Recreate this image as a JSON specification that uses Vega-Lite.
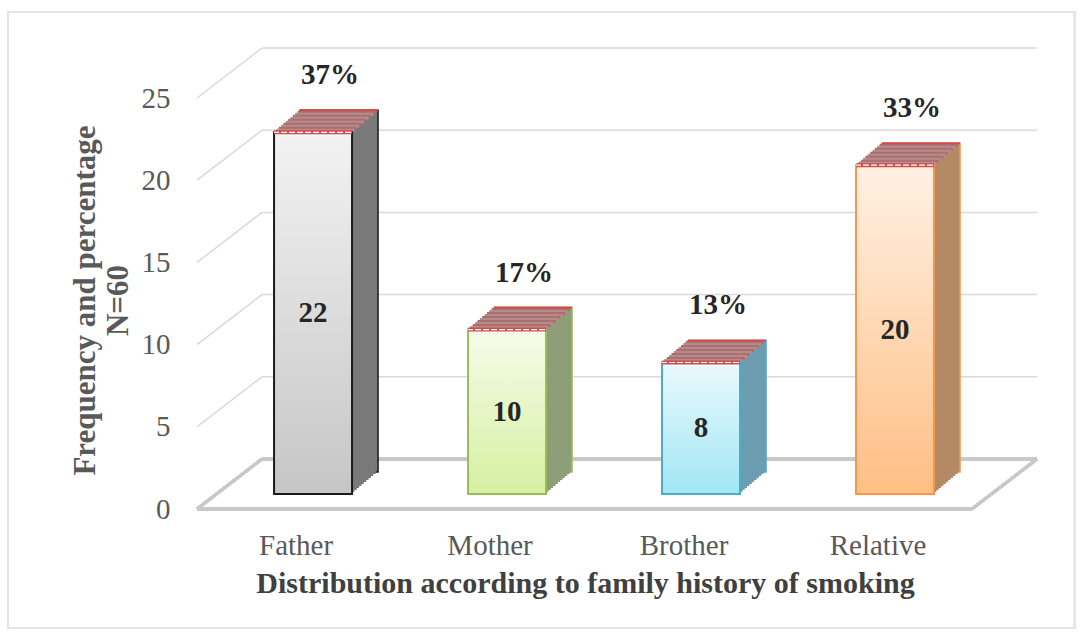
{
  "$schema": "https://vega.github.io/schema/vega-lite/v6.json",
  "width": 840,
  "height": 461,
  "autosize": {"type": "none"},
  "padding": {"left": 197, "top": 48, "right": 44, "bottom": 126},
  "background": "white",
  "config": {"view": {"stroke": null}},
  "data": {"values": [
    {"member": "Father", "count": 22, "pct": "37%"},
    {"member": "Mother", "count": 10, "pct": "17%"},
    {"member": "Brother", "count": 8, "pct": "13%"},
    {"member": "Relative", "count": 20, "pct": "33%"}
  ]},
  "resolve": {"scale": {"x": "independent", "y": "independent"}},
  "layer": [
    {
      "data": {"values": [{"g": 5}, {"g": 10}, {"g": 15}, {"g": 20}, {"g": 25}]},
      "layer": [
        {"mark": {"type": "rect", "fill": null, "stroke": "#e4e4e4", "strokeWidth": 2},
         "encoding": {
           "x": {"datum": -0.225, "type": "quantitative", "scale": {"domain": [0, 1]}, "axis": null},
           "x2": {"datum": 1.045},
           "y": {"datum": 29.32, "type": "quantitative", "scale": {"domain": [-0.9124, 27.129]}, "axis": null},
           "y2": {"datum": -8.15}}},
        {"mark": {"type": "rule", "color": "#d9d9d9", "strokeWidth": 1.5, "yOffset": 15, "y2Offset": -35},
         "encoding": {
           "x": {"datum": 0, "type": "quantitative", "scale": {"domain": [0, 1]}, "axis": null},
           "x2": {"datum": 0.0774},
           "y": {"field": "g", "type": "quantitative", "scale": {"domain": [-0.9124, 27.129]}, "axis": null},
           "y2": {"field": "g"}}},
        {"mark": {"type": "rule", "color": "#d9d9d9", "strokeWidth": 1.5, "yOffset": -35},
         "encoding": {
           "x": {"datum": 0.0774, "type": "quantitative", "scale": {"domain": [0, 1]}, "axis": null},
           "x2": {"datum": 1},
           "y": {"field": "g", "type": "quantitative", "scale": {"domain": [-0.9124, 27.129]}, "axis": null}}},
        {"mark": {"type": "rule", "color": "#c8c8c8", "strokeWidth": 3, "yOffset": 15, "y2Offset": -35},
         "encoding": {
           "x": {"datum": 0, "type": "quantitative", "scale": {"domain": [0, 1]}, "axis": null},
           "x2": {"datum": 0.0774},
           "y": {"datum": 0, "type": "quantitative", "scale": {"domain": [-0.9124, 27.129]}, "axis": null},
           "y2": {"datum": 0}}},
        {"mark": {"type": "rule", "color": "#c8c8c8", "strokeWidth": 3, "yOffset": -35},
         "encoding": {
           "x": {"datum": 0.0774, "type": "quantitative", "scale": {"domain": [0, 1]}, "axis": null},
           "x2": {"datum": 1},
           "y": {"datum": 0, "type": "quantitative", "scale": {"domain": [-0.9124, 27.129]}, "axis": null}}},
        {"mark": {"type": "rule", "color": "#c8c8c8", "strokeWidth": 3, "yOffset": 15},
         "encoding": {
           "x": {"datum": 0, "type": "quantitative", "scale": {"domain": [0, 1]}, "axis": null},
           "x2": {"datum": 0.9226},
           "y": {"datum": 0, "type": "quantitative", "scale": {"domain": [-0.9124, 27.129]}, "axis": null}}},
        {"mark": {"type": "rule", "color": "#c8c8c8", "strokeWidth": 3, "yOffset": 15, "y2Offset": -35},
         "encoding": {
           "x": {"datum": 0.9226, "type": "quantitative", "scale": {"domain": [0, 1]}, "axis": null},
           "x2": {"datum": 1},
           "y": {"datum": 0, "type": "quantitative", "scale": {"domain": [-0.9124, 27.129]}, "axis": null},
           "y2": {"datum": 0}}}
      ]
    },
    {
      "encoding": {
        "x": {"field": "member", "type": "nominal", "sort": ["Father", "Mother", "Brother", "Relative"],
          "scale": {"type": "band", "paddingInner": 0.598, "paddingOuter": 0.464, "align": 0.428},
          "axis": {"labelOffset": -17, "ticks": false, "domain": false, "labelPadding": 22, "labelAngle": 0,
            "labelFont": "Liberation Serif", "labelFontSize": 29, "labelColor": "#595959",
            "title": "Distribution according to family history of smoking",
            "titleFont": "Liberation Serif", "titleFontSize": 30, "titleFontWeight": "bold", "titleColor": "#404040",
            "titleX": 388, "titleAlign": "center", "titlePadding": 8}},
        "y": {"field": "count", "type": "quantitative", "scale": {"domain": [-0.9124, 27.129]},
          "axis": {"values": [0, 5, 10, 15, 20, 25], "labelOffset": 15, "ticks": false, "domain": false, "grid": false,
            "labelPadding": 27, "labelFont": "Liberation Serif", "labelFontSize": 29, "labelColor": "#595959",
            "title": ["Frequency and percentage", "N=60"], "titleFont": "Liberation Serif", "titleFontSize": 31,
            "titleFontWeight": "bold", "titleColor": "#595959", "titleX": -112, "titleY": 252,
            "titleBaseline": "middle", "titleAlign": "center", "titleLineHeight": 33, "titleAngle": 270}}
      },
      "layer": [
        {"mark": {"type": "bar", "xOffset": 26, "yOffset": -22, "y2Offset": -22, "strokeWidth": 1.5},
         "encoding": {"y2": {"datum": 0},
           "fill": {"field": "member", "type": "nominal", "scale": {"domain": ["Father", "Mother", "Brother", "Relative"], "range": ["#7a7a7a", "#8d9e78", "#6d9db0", "#b48a66"]}, "legend": null},
           "stroke": {"field": "member", "type": "nominal", "scale": {"domain": ["Father", "Mother", "Brother", "Relative"], "range": ["#1a1a1a", "#9bbb59", "#4bacc6", "#f79646"]}, "legend": null}}},
        {"mark": {"type": "bar", "xOffset": 23.64, "yOffset": -20, "y2Offset": -20},
         "encoding": {"y2": {"datum": 0}, "fill": {"field": "member", "type": "nominal", "legend": null}}},
        {"mark": {"type": "bar", "xOffset": 21.27, "yOffset": -18, "y2Offset": -18},
         "encoding": {"y2": {"datum": 0}, "fill": {"field": "member", "type": "nominal", "legend": null}}},
        {"mark": {"type": "bar", "xOffset": 18.91, "yOffset": -16, "y2Offset": -16},
         "encoding": {"y2": {"datum": 0}, "fill": {"field": "member", "type": "nominal", "legend": null}}},
        {"mark": {"type": "bar", "xOffset": 16.55, "yOffset": -14, "y2Offset": -14},
         "encoding": {"y2": {"datum": 0}, "fill": {"field": "member", "type": "nominal", "legend": null}}},
        {"mark": {"type": "bar", "xOffset": 14.18, "yOffset": -12, "y2Offset": -12},
         "encoding": {"y2": {"datum": 0}, "fill": {"field": "member", "type": "nominal", "legend": null}}},
        {"mark": {"type": "bar", "xOffset": 11.82, "yOffset": -10, "y2Offset": -10},
         "encoding": {"y2": {"datum": 0}, "fill": {"field": "member", "type": "nominal", "legend": null}}},
        {"mark": {"type": "bar", "xOffset": 9.45, "yOffset": -8, "y2Offset": -8},
         "encoding": {"y2": {"datum": 0}, "fill": {"field": "member", "type": "nominal", "legend": null}}},
        {"mark": {"type": "bar", "xOffset": 7.09, "yOffset": -6, "y2Offset": -6},
         "encoding": {"y2": {"datum": 0}, "fill": {"field": "member", "type": "nominal", "legend": null}}},
        {"mark": {"type": "bar", "xOffset": 4.73, "yOffset": -4, "y2Offset": -4},
         "encoding": {"y2": {"datum": 0}, "fill": {"field": "member", "type": "nominal", "legend": null}}},
        {"mark": {"type": "bar", "xOffset": 2.36, "yOffset": -2, "y2Offset": -2},
         "encoding": {"y2": {"datum": 0}, "fill": {"field": "member", "type": "nominal", "legend": null}}},

        {"mark": {"type": "bar", "xOffset": 23.64, "yOffset": -20, "y2Offset": -20, "fill": "#a87070", "stroke": "#a87070", "strokeWidth": 3}, "encoding": {"y2": {"field": "count"}}},
        {"mark": {"type": "bar", "xOffset": 21.27, "yOffset": -18, "y2Offset": -18, "fill": "#b98a8a", "stroke": "#b98a8a", "strokeWidth": 3}, "encoding": {"y2": {"field": "count"}}},
        {"mark": {"type": "bar", "xOffset": 18.91, "yOffset": -16, "y2Offset": -16, "fill": "#a87070", "stroke": "#a87070", "strokeWidth": 3}, "encoding": {"y2": {"field": "count"}}},
        {"mark": {"type": "bar", "xOffset": 16.55, "yOffset": -14, "y2Offset": -14, "fill": "#b98a8a", "stroke": "#b98a8a", "strokeWidth": 3}, "encoding": {"y2": {"field": "count"}}},
        {"mark": {"type": "bar", "xOffset": 14.18, "yOffset": -12, "y2Offset": -12, "fill": "#a87070", "stroke": "#a87070", "strokeWidth": 3}, "encoding": {"y2": {"field": "count"}}},
        {"mark": {"type": "bar", "xOffset": 11.82, "yOffset": -10, "y2Offset": -10, "fill": "#b98a8a", "stroke": "#b98a8a", "strokeWidth": 3}, "encoding": {"y2": {"field": "count"}}},
        {"mark": {"type": "bar", "xOffset": 9.45, "yOffset": -8, "y2Offset": -8, "fill": "#a87070", "stroke": "#a87070", "strokeWidth": 3}, "encoding": {"y2": {"field": "count"}}},
        {"mark": {"type": "bar", "xOffset": 7.09, "yOffset": -6, "y2Offset": -6, "fill": "#b98a8a", "stroke": "#b98a8a", "strokeWidth": 3}, "encoding": {"y2": {"field": "count"}}},
        {"mark": {"type": "bar", "xOffset": 4.73, "yOffset": -4, "y2Offset": -4, "fill": "#a87070", "stroke": "#a87070", "strokeWidth": 3}, "encoding": {"y2": {"field": "count"}}},
        {"mark": {"type": "bar", "xOffset": 2.36, "yOffset": -2, "y2Offset": -2, "fill": "#b98a8a", "stroke": "#b98a8a", "strokeWidth": 3}, "encoding": {"y2": {"field": "count"}}},
        {"mark": {"type": "bar", "xOffset": 26, "yOffset": -22, "y2Offset": -22, "fill": "#d24b4b", "stroke": "#d24b4b", "strokeWidth": 2}, "encoding": {"y2": {"field": "count"}}},

        {"mark": {"type": "bar"},
         "encoding": {"y2": {"datum": 0},
           "color": {"field": "member", "type": "nominal", "scale": {"domain": ["Father", "Mother", "Brother", "Relative"], "range": ["#c6c6c6", "#d6f0a2", "#a2e6f4", "#ffbf84"]}, "legend": null}}},
        {"mark": {"type": "bar", "strokeWidth": 2,
           "fill": {"gradient": "linear", "x1": 0, "y1": 0, "x2": 0, "y2": 1,
             "stops": [{"offset": 0, "color": "rgba(255,255,255,0.78)"}, {"offset": 1, "color": "rgba(255,255,255,0)"}]}},
         "encoding": {"y2": {"datum": 0}, "stroke": {"field": "member", "type": "nominal", "legend": null}}},
        {"mark": {"type": "bar", "fill": "#d24b4b", "stroke": "#d24b4b", "strokeWidth": 4}, "encoding": {"y2": {"field": "count"}}},
        {"mark": {"type": "bar", "fill": "white", "stroke": "white", "strokeWidth": 1.2, "strokeDash": [5, 3]}, "encoding": {"y2": {"field": "count"}}},

        {"mark": {"type": "text", "dx": 17, "dy": -57, "font": "Liberation Serif", "fontSize": 29, "fontWeight": "bold", "color": "#262626", "baseline": "middle", "align": "center"},
         "encoding": {"text": {"field": "pct"}}}
      ]
    },
    {
      "mark": {"type": "text", "font": "Liberation Serif", "fontSize": 29, "fontWeight": "bold", "color": "#262626", "baseline": "middle", "align": "center"},
      "encoding": {
        "x": {"field": "member", "type": "nominal", "sort": ["Father", "Mother", "Brother", "Relative"],
          "scale": {"type": "band", "paddingInner": 0.598, "paddingOuter": 0.464, "align": 0.428}, "axis": null},
        "y": {"field": "count", "type": "quantitative", "scale": {"domain": [-1.8248, 54.258]}, "axis": null},
        "text": {"field": "count"}
      }
    }
  ]
}
